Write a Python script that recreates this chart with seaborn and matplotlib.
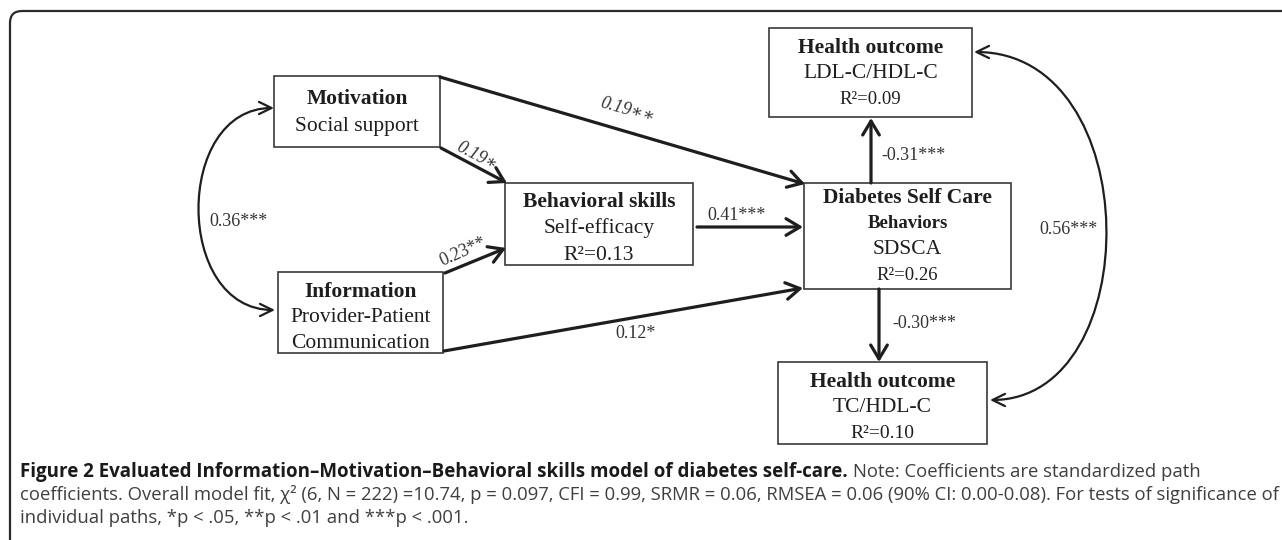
import matplotlib
matplotlib.use("Agg")
import matplotlib.pyplot as plt
import seaborn as sns
from matplotlib.patches import Rectangle, FancyBboxPatch, FancyArrowPatch
from matplotlib.path import Path

sns.set_theme(style="white")
plt.rcParams["font.family"] = ["Liberation Serif", "DejaVu Serif"]

# --- DATA ---
node_keys = ["mot", "info", "beh", "dsc", "ldl", "tc"]
node_titles = ["Motivation", "Information", "Behavioral skills",
               "Diabetes Self Care\nBehaviors", "Health outcome", "Health outcome"]
node_measures = ["Social support", "Provider-Patient\nCommunication", "Self-efficacy",
                 "SDSCA", "LDL-C/HDL-C", "TC/HDL-C"]
node_r2 = [None, None, 0.13, 0.26, 0.09, 0.10]

path_from = ["mot", "mot", "info", "info", "beh", "dsc", "dsc"]
path_to = ["dsc", "beh", "beh", "dsc", "dsc", "ldl", "tc"]
path_coef = [0.19, 0.19, 0.23, 0.12, 0.41, -0.31, -0.30]
path_stars = ["\u2217\u2217", "\u2217", "**", "*", "***", "***", "***"]

cov_pairs = [("mot", "info"), ("ldl", "tc")]
cov_coef = [0.36, 0.56]
cov_stars = ["***", "***"]

caption_bold = "Figure 2 Evaluated Information\u2013Motivation\u2013Behavioral skills model of diabetes self-care."
caption_rest = "Note: Coefficients are standardized path"
caption_line2 = ("coefficients. Overall model fit, \u03c7\u00b2 (6, N = 222) =10.74, p = 0.097, CFI = 0.99, "
                 "SRMR = 0.06, RMSEA = 0.06 (90% CI: 0.00-0.08). For tests of significance of")
caption_line3 = "individual paths, *p < .05, **p < .01 and ***p < .001."

# --- LAYOUT (pixel coordinates, y pointing down) ---
boxes = {"mot": (274, 76, 440, 147), "info": (278, 272, 443, 353),
         "beh": (505, 183, 693, 265), "dsc": (804, 183, 1011, 289),
         "ldl": (769, 28, 972, 117), "tc": (778, 362, 987, 444)}
line_y = {"mot": [99, 126], "info": [292, 318, 343], "beh": [202, 228, 255],
          "dsc": [198, 224, 249, 275], "ldl": [48, 74, 99], "tc": [382, 408, 433]}
r2_size = {"beh": 15.5, "dsc": 13.5, "ldl": 13.5, "tc": 14}

arrow_pts = [((440, 77), (805, 184)), ((441, 148), (507, 183)), ((445, 273), (506, 248)),
             ((444, 351), (803, 288)), ((697, 227), (803, 227)), ((871, 183), (871, 118)),
             ((879, 289), (879, 362))]
label_pos = [(627, 110, -16, "italic"), (477, 156, -28, "italic"), (463, 252, 24, "normal"),
             (636, 333, 0, "normal"), (737, 216, 0, "normal"), (913, 155, 0, "normal"),
             (924, 323, 0, "normal")]
cov_curve = [((274, 108), 174, (275, 310)), ((974, 52), 1147, (990, 400))]
cov_label = [(238, 222), (1069, 230)]

ink = "#1e1e1e"

fig = plt.figure(figsize=(12.82, 5.40), dpi=100)
ax = fig.add_axes([0, 0, 1, 1])
ax.set_xlim(0, 1282)
ax.set_ylim(540, 0)
ax.axis("off")

# outer panel frame (only top/left visible)
ax.add_patch(FancyBboxPatch((10, 11), 1330, 600, boxstyle="round,pad=0,rounding_size=12",
                            fill=False, lw=1.6, ec="#2a2a2a"))

# --- BOXES ---
for i, key in enumerate(node_keys):
    x0, y0, x1, y1 = boxes[key]
    ax.add_patch(Rectangle((x0, y0), x1 - x0, y1 - y0, fill=False, lw=1.2, ec="#3a3a3a"))
    cx = (x0 + x1) / 2
    lines = []
    for j, t in enumerate(node_titles[i].split("\n")):
        lines.append((t, "bold", 15.5 if j == 0 else 13.5))
    for t in node_measures[i].split("\n"):
        lines.append((t, "normal", 15.5))
    if node_r2[i] is not None:
        lines.append((f"R\u00b2={node_r2[i]:.2f}", "normal", r2_size[key]))
    for (t, w, s), y in zip(lines, line_y[key]):
        ax.text(cx, y, t, ha="center", va="center", fontsize=s, fontweight=w, color=ink)

# --- PATHS ---
for k in range(len(path_coef)):
    (xa, ya), (xb, yb) = arrow_pts[k]
    ax.annotate("", xy=(xb, yb), xytext=(xa, ya),
                arrowprops=dict(arrowstyle="->,head_length=0.5,head_width=0.3",
                                lw=2.3, color=ink, shrinkA=0, shrinkB=0, mutation_scale=20))
    lx, ly, rot, style = label_pos[k]
    ax.text(lx, ly, f"{path_coef[k]:.2f}{path_stars[k]}", ha="center", va="center",
            rotation=rot, rotation_mode="anchor", fontsize=13, fontstyle=style, color="#333333")

# --- COVARIANCES ---
for k in range(len(cov_coef)):
    (xa, ya), cxp, (xb, yb) = cov_curve[k]
    p = Path([(xa, ya), (cxp, ya), (cxp, yb), (xb, yb)],
             [Path.MOVETO, Path.CURVE4, Path.CURVE4, Path.CURVE4])
    ax.add_patch(FancyArrowPatch(path=p, arrowstyle="<->,head_length=0.45,head_width=0.22",
                                 mutation_scale=20, lw=1.6, color=ink))
    ax.text(cov_label[k][0], cov_label[k][1], f"{cov_coef[k]:.2f}{cov_stars[k]}",
            ha="center", va="center", fontsize=13, color="#333333")

# --- CAPTION ---
cap_font = ["Open Sans", "DejaVu Sans"]
renderer = fig.canvas.get_renderer()


def fit_size(t, right_px):
    # scale the font so the line ends where it does in the figure
    bb = t.get_window_extent(renderer=renderer)
    t.set_fontsize(t.get_fontsize() * (right_px - bb.x0) / bb.width)


t1 = ax.text(20, 472, caption_bold, ha="left", va="center", fontsize=12,
             fontweight="bold", family=cap_font, color="#1a1a1a")
fit_size(t1, 848)
t2 = ax.text(20, 495, caption_line2, ha="left", va="center", fontsize=12,
             family=cap_font, color="#3f3f3f")
fit_size(t2, 1279)
size_reg = t2.get_fontsize()

# regular text continues right after the bold part
bold_end = t1.get_window_extent(renderer=renderer).x1
x_rest = ax.transData.inverted().transform((bold_end, 0))[0] + 5
ax.text(x_rest, 472, caption_rest, ha="left", va="center", fontsize=size_reg,
        family=cap_font, color="#3f3f3f")
ax.text(20, 518, caption_line3, ha="left", va="center", fontsize=size_reg,
        family=cap_font, color="#3f3f3f")

fig.savefig("out.png", dpi=100)
